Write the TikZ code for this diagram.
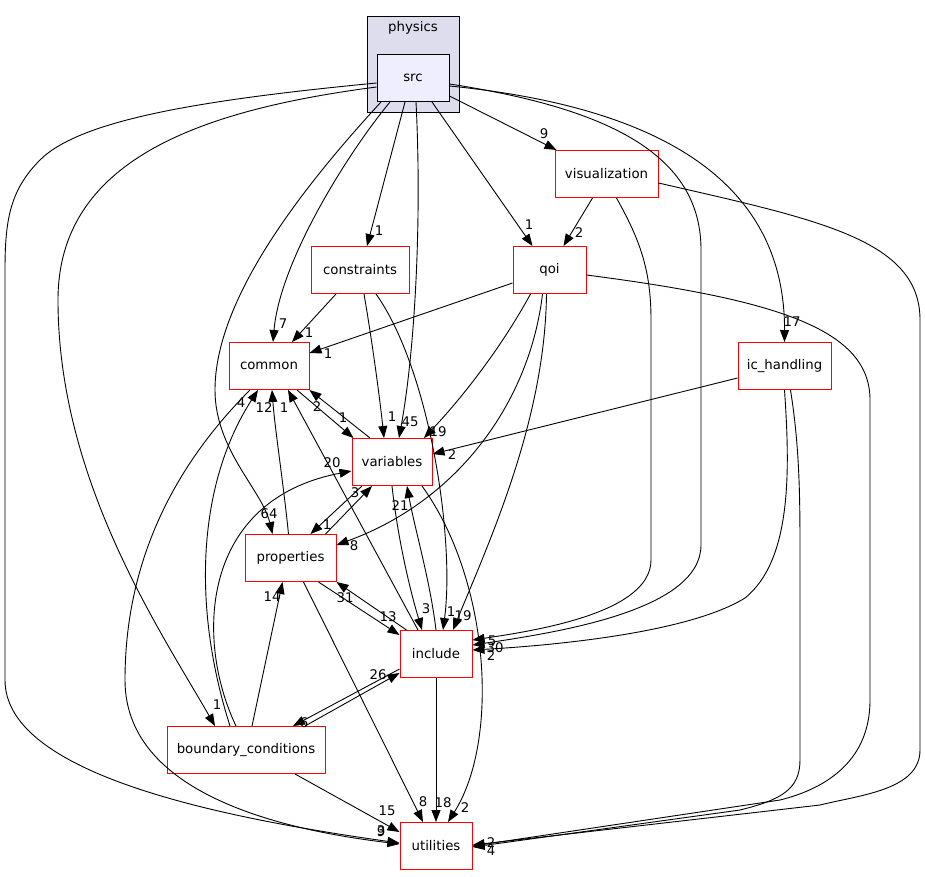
\documentclass[tikz,border=0pt]{standalone}
\usepackage{fontspec}
\usepackage{tikz}
\usetikzlibrary{arrows.meta}
\usetikzlibrary{calc}
\newfontfamily\dgfont{DejaVu Sans}
\newcommand{\dgsize}{\dgfont\fontsize{13.3}{16}\selectfont}

\begin{document}
\begin{tikzpicture}[x=1pt,y=-1pt,
    dir/.style={draw=red,fill=white,line width=1pt,minimum height=47pt,inner sep=0pt,font=\dgsize},
    dep/.style={-{Triangle[length=12pt,width=9pt]},line width=0.9pt},
    num/.style={font=\dgsize,inner sep=0pt}]
    \useasboundingbox (0,0) rectangle (925,876);
    % cluster
    \draw[fill={rgb,255:red,221;green,221;blue,238},line width=1pt] (367,16) rectangle (459,112);
    \node[font=\dgsize] (physics) at (413,28) {physics};
    \node[dir,draw=black,fill={rgb,255:red,238;green,238;blue,255},minimum width=72pt] (src) at (413,78) {src};
    % directories
    \node[dir,minimum width=103pt] (visualization) at (606.5,174) {visualization};
    \node[dir,minimum width=98pt] (constraints) at (360,270) {constraints};
    \node[dir,minimum width=73pt] (qoi) at (549.5,270) {qoi};
    \node[dir,minimum width=80pt] (common) at (269,366) {common};
    \node[dir,minimum width=93pt] (ic_handling) at (784.5,366) {ic\_handling};
    \node[dir,minimum width=80pt] (variables) at (392,462) {variables};
    \node[dir,minimum width=91pt] (properties) at (290.5,558) {properties};
    \node[dir,minimum width=72pt] (include) at (436,654) {include};
    \node[dir,minimum width=158pt] (boundary_conditions) at (246,750) {boundary\_conditions};
    \node[dir,minimum width=72pt] (utilities) at (436,846) {utilities};
    % from src
    \draw[dep] ($(src.south)+(-23,0)$) .. controls (350,150) and (280,260) .. ($(common.north)+(4,0)$) node[num] at (283,324) {7};
    \draw[dep] ($(src.south)+(-8,0)$) -- ($(constraints.north)+(7,0)$) node[num] at (379,231) {1};
    \draw[dep] ($(src.south)+(3,0)$) .. controls (422,220) and (415,350) .. ($(variables.north)+(7,0)$) node[num] at (410,422) {45};
    \draw[dep] ($(src.south)+(19,0)$) -- ($(qoi.north)+(-17,0)$) node[num] at (529,225) {1};
    \draw[dep] ($(src.east)+(0,18)$) -- ($(visualization.north west)+(2,0)$) node[num] at (544,134) {9};
    \draw[dep] ($(src.east)+(0,8)$) .. controls (640,105) and (785,170) .. (ic_handling.north) node[num] at (792,322) {17};
    \draw[dep] ($(src.east)+(0,6)$) .. controls (620,110) and (701,160) .. (701,250) -- (701,545)
        .. controls (701,610) and (560,632) .. ($(include.east)+(0,-9)$) node[num] at (495,648) {30};
    \draw[dep] ($(src.south)+(-32,0)$) .. controls (300,190) and (215,300) .. (215,390)
        .. controls (215,450) and (262,490) .. ($(properties.north)+(-18,0)$) node[num] at (269,514) {64};
    \draw[dep] ($(src.west)+(0,9)$) .. controls (200,110) and (58,160) .. (58,300)
        .. controls (58,480) and (160,630) .. ($(boundary_conditions.north)+(-31,0)$) node[num] at (217,705) {1};
    \draw[dep] ($(src.west)+(0,5)$) .. controls (200,100) and (80,120) .. (40,160)
        .. controls (10,190) and (5,220) .. (5,270) -- (5,680)
        .. controls (5,770) and (200,815) .. ($(utilities.west)+(0,-3)$) node[num] at (381,832) {9};
    % from visualization
    \draw[dep] ($(visualization.south)+(-14,0)$) -- ($(qoi.north)+(14,0)$) node[num] at (579,233) {2};
    \draw[dep] ($(visualization.south)+(10,0)$) .. controls (640,240) and (651,270) .. (651,320) -- (651,560)
        .. controls (651,612) and (540,630) .. ($(include.east)+(0,-14)$) node[num] at (492,641) {5};
    \draw[dep] ($(visualization.east)+(0,9)$) .. controls (820,220) and (920,240) .. (920,320) -- (920,750)
        .. controls (920,790) and (860,795) .. (820,805) -- ($(utilities.east)+(0,-1)$) node[num] at (491,843) {2};
    % from qoi
    \draw[dep] ($(qoi.west)+(0,13)$) -- ($(common.east)+(0,-13)$) node[num] at (328,354) {1};
    \draw[dep] ($(qoi.south)+(-19,0)$) .. controls (500,350) and (460,400) .. ($(variables.north)+(32,0)$) node[num] at (438,432) {19};
    \draw[dep] ($(qoi.south)+(-7,0)$) .. controls (530,400) and (460,500) .. ($(properties.east)+(0,-13)$) node[num] at (354,546) {8};
    \draw[dep] ($(qoi.south)+(-3,0)$) .. controls (545,420) and (490,540) .. ($(include.north)+(17,0)$) node[num] at (463,616) {19};
    \draw[dep] ($(qoi.east)+(0,5)$) .. controls (780,300) and (870,330) .. (870,400) -- (870,700)
        .. controls (870,765) and (820,790) .. (780,800) -- (utilities.east) node[num] at (491,851) {4};
    % from constraints
    \draw[dep] ($(constraints.south)+(-24,0)$) -- ($(common.north)+(23,0)$) node[num] at (309,333) {1};
    \draw[dep] ($(constraints.south)+(4,0)$) .. controls (372,340) and (380,400) .. ($(variables.north)+(-8,0)$) node[num] at (392,417) {1};
    \draw[dep] ($(constraints.south)+(16,0)$) .. controls (430,370) and (455,540) .. ($(include.north)+(7,0)$) node[num] at (451,612) {1};
    % from ic_handling
    \draw[dep] ($(ic_handling.west)+(0,12)$) -- ($(variables.east)+(0,-8)$) node[num] at (452,455) {2};
    \draw[dep] (ic_handling.south) .. controls (790,470) and (792,560) .. (745,598)
        .. controls (690,632) and (560,645) .. ($(include.east)+(0,-4)$) node[num] at (491,656) {2};
    \draw[dep] ($(ic_handling.south)+(6,0)$) .. controls (800,450) and (800,500) .. (800,560) -- (800,760)
        .. controls (800,790) and (780,800) .. (740,810) -- ($(utilities.east)+(0,1)$);
    % from common
    \draw[dep] ($(common.south)+(28,0)$) -- ($(variables.north west)+(2,0)$) node[num] at (343,418) {1};
    \draw[dep] ($(common.south)+(-19,0)$) .. controls (160,480) and (125,580) .. (125,680)
        .. controls (125,800) and (300,832) .. ($(utilities.west)+(0,-2)$) node[num] at (381,831) {3};
    % from variables
    \draw[dep] ($(variables.north)+(-22,0)$) -- (common.south east) node[num] at (317,407) {2};
    \draw[dep] ($(variables.south)+(-30,0)$) -- ($(properties.north)+(20,0)$) node[num] at (327,525) {1};
    \draw[dep] (variables.south) .. controls (398,540) and (410,590) .. ($(include.north)+(-14,0)$) node[num] at (426,609) {3};
    \draw[dep] ($(variables.south)+(30,0)$) .. controls (490,580) and (500,740) .. ($(utilities.north)+(12,0)$) node[num] at (465,808) {2};
    % from properties
    \draw[dep] ($(properties.north)+(35,0)$) -- ($(variables.south)+(-20,0)$) node[num] at (355,493) {3};
    \draw[dep] ($(properties.north)+(-2,0)$) .. controls (283,480) and (275,430) .. ($(common.south)+(3,0)$) node[num] at (264,408) {12};
    \draw[dep] ($(properties.south)+(28,0)$) -- ($(include.west)+(0,-19)$) node[num] at (388,617) {13};
    \draw[dep] ($(properties.south)+(13,0)$) -- ($(utilities.north)+(-13,0)$) node[num] at (423,802) {8};
    % from include
    \draw[dep] (include.north) .. controls (430,580) and (415,530) .. ($(variables.south)+(15,0)$) node[num] at (400,506) {21};
    \draw[dep] ($(include.north)+(-18,0)$) -- ($(common.south)+(19,0)$) node[num] at (284,408) {1};
    \draw[dep] ($(include.north west)+(7,0)$) -- (properties.south east) node[num] at (345,598) {31};
    \draw[dep] ($(include.west)+(0,15)$) -- ($(boundary_conditions.north)+(47,0)$) node[num] at (304,723) {6};
    \draw[dep] (include.south) -- (utilities.north) node[num] at (443,803) {18};
    % from boundary_conditions
    \draw[dep] ($(boundary_conditions.north)+(-10,0)$) .. controls (195,640) and (200,500) .. ($(variables.west)+(0,9)$) node[num] at (332,463) {20};
    \draw[dep] ($(boundary_conditions.north)+(-16,0)$) .. controls (190,600) and (200,480) .. ($(common.south)+(-11,0)$) node[num] at (241,403) {4};
    \draw[dep] ($(boundary_conditions.north)+(6,0)$) -- ($(properties.south)+(-8,0)$) node[num] at (272,597) {14};
    \draw[dep] ($(boundary_conditions.north)+(59,0)$) -- ($(include.west)+(0,19)$) node[num] at (378,675) {26};
    \draw[dep] ($(boundary_conditions.south)+(49,0)$) -- ($(utilities.west)+(0,-14)$) node[num] at (387,811) {15};
\end{tikzpicture}
\end{document}
